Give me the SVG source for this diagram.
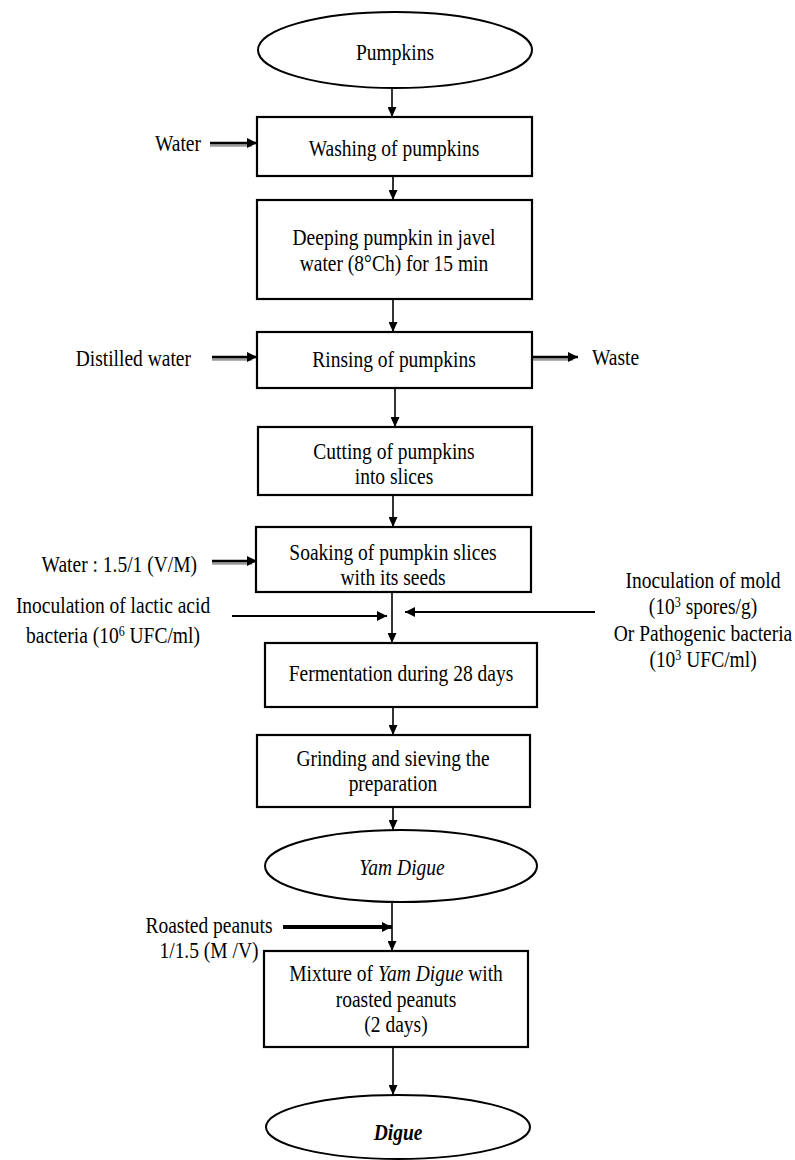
<svg xmlns="http://www.w3.org/2000/svg" width="795" height="1160" viewBox="0 0 795 1160">
<defs>
<style>
.t{font-family:"Liberation Serif","Times New Roman",serif;font-size:19.5px;fill:#000;text-anchor:middle}
.e{text-anchor:end}
.s{text-anchor:start}
.sup{font-size:12px}
.box{fill:#fff;stroke:#000;stroke-width:2.2}
.ov{fill:#fff;stroke:#000;stroke-width:2}
.main{stroke:#000;stroke-width:1.6;fill:none}
.side{stroke:#000;stroke-width:2.6;fill:none}
.shad{stroke:#9a9a9a;stroke-width:2.5;fill:none}
.ino{stroke:#000;stroke-width:2.2;fill:none}
.thick{stroke:#000;stroke-width:4;fill:none}
</style>
<marker id="ah" markerUnits="userSpaceOnUse" viewBox="0 0 10 9" refX="10" refY="4.5" markerWidth="10" markerHeight="9" orient="auto">
<path d="M0,0 L10,4.5 L0,9 z" fill="#000"/>
</marker>
<marker id="ahs" markerUnits="userSpaceOnUse" viewBox="0 0 10 10" refX="10" refY="5" markerWidth="10" markerHeight="10" orient="auto">
<path d="M0,0 L10,5 L0,10 z" fill="#000"/>
</marker>
</defs>
<rect width="795" height="1160" fill="#fff"/>

<g id="connectors">
<path class="main" d="M392 88 V117" marker-end="url(#ah)"/>
<path class="main" d="M393 176 V200" marker-end="url(#ah)"/>
<path class="main" d="M393 299 V332" marker-end="url(#ah)"/>
<path class="main" d="M395 388 V427" marker-end="url(#ah)"/>
<path class="main" d="M393 495 V527" marker-end="url(#ah)"/>
<path class="main" d="M392 592 V643" marker-end="url(#ah)"/>
<path class="main" d="M393 707 V735" marker-end="url(#ah)"/>
<path class="main" d="M393 807 V830" marker-end="url(#ah)"/>
<path class="main" d="M392 902 V951" marker-end="url(#ah)"/>
<path class="main" d="M393 1047 V1095" marker-end="url(#ah)"/>
<path class="shad" d="M210 145.5 H252"/>
<path class="side" d="M210 143 H257" marker-end="url(#ahs)"/>
<path class="shad" d="M212 359.5 H252"/>
<path class="side" d="M212 357 H257" marker-end="url(#ahs)"/>
<path class="shad" d="M532 359.5 H573"/>
<path class="side" d="M532 357 H578" marker-end="url(#ahs)"/>
<path class="shad" d="M212 563.5 H252"/>
<path class="side" d="M212 561 H257" marker-end="url(#ahs)"/>
<path class="ino" d="M232 616 H387" marker-end="url(#ahs)"/>
<path class="ino" d="M595 612 H405" marker-end="url(#ahs)"/>
<path class="thick" d="M283 927 H392" marker-end="url(#ahs)"/>
</g>

<g id="n-pumpkins">
<ellipse class="ov" cx="395" cy="50" rx="137" ry="38"/>
<text class="t" transform="translate(395 60) scale(1 1.23)">Pumpkins</text>
</g>
<g id="n-washing">
<rect class="box" x="257" y="117" width="275" height="59"/>
<text class="t" transform="translate(394 156) scale(1 1.23)">Washing of pumpkins</text>
</g>
<g id="in-water">
<text class="t e" transform="translate(201 151) scale(1 1.23)">Water</text>
</g>
<g id="n-deeping">
<rect class="box" x="257" y="200" width="275" height="99"/>
<text class="t" transform="translate(394 245) scale(1 1.23)"><tspan x="0" y="0">Deeping pumpkin in javel</tspan><tspan x="0" y="21.1">water (8°Ch) for 15 min</tspan></text>
</g>
<g id="n-rinsing">
<rect class="box" x="257" y="332" width="275" height="56"/>
<text class="t" transform="translate(394 367) scale(1 1.23)">Rinsing of pumpkins</text>
</g>
<g id="in-distilled">
<text class="t e" transform="translate(191 366) scale(1 1.23)">Distilled water</text>
</g>
<g id="out-waste">
<text class="t s" transform="translate(592 365) scale(1 1.23)">Waste</text>
</g>
<g id="n-cutting">
<rect class="box" x="258" y="427" width="274" height="68"/>
<text class="t" transform="translate(394 459) scale(1 1.23)"><tspan x="0" y="0">Cutting of pumpkins</tspan><tspan x="0" y="20.3">into slices</tspan></text>
</g>
<g id="n-soaking">
<rect class="box" x="256" y="527" width="275" height="65"/>
<text class="t" transform="translate(393 560) scale(1 1.23)"><tspan x="0" y="0">Soaking of pumpkin slices</tspan><tspan x="0" y="20.3">with its seeds</tspan></text>
</g>
<g id="in-water2">
<text class="t e" transform="translate(197 572) scale(1 1.23)">Water : 1.5/1 (V/M)</text>
</g>
<g id="in-lactic">
<text class="t" transform="translate(113 613) scale(1 1.23)"><tspan x="0" y="0">Inoculation of lactic acid</tspan><tspan x="0" y="24.4">bacteria (10<tspan class="sup" dy="-6">6</tspan><tspan dy="6"> UFC/ml)</tspan></tspan></text>
</g>
<g id="in-mold">
<text class="t" transform="translate(703 588) scale(1 1.23)"><tspan x="0" y="0">Inoculation of mold</tspan><tspan x="0" y="21.3">(10<tspan class="sup" dy="-6">3</tspan><tspan dy="6"> spores/g)</tspan></tspan><tspan x="0" y="43.1">Or Pathogenic bacteria</tspan><tspan x="0" y="64.6">(10<tspan class="sup" dy="-6">3</tspan><tspan dy="6"> UFC/ml)</tspan></tspan></text>
</g>
<g id="n-fermentation">
<rect class="box" x="265" y="643" width="272" height="64"/>
<text class="t" transform="translate(401 681) scale(1 1.23)">Fermentation during 28 days</text>
</g>
<g id="n-grinding">
<rect class="box" x="257" y="735" width="273" height="72"/>
<text class="t" transform="translate(393 766) scale(1 1.23)"><tspan x="0" y="0">Grinding and sieving the</tspan><tspan x="0" y="20.3">preparation</tspan></text>
</g>
<g id="n-yamdigue">
<ellipse class="ov" cx="401" cy="866" rx="136" ry="36"/>
<text class="t" font-style="italic" transform="translate(402 875) scale(1 1.23)">Yam Digue</text>
</g>
<g id="in-peanuts">
<text class="t" transform="translate(209 933) scale(1 1.23)"><tspan x="0" y="0">Roasted peanuts</tspan><tspan x="0" y="20.3">1/1.5 (M /V)</tspan></text>
</g>
<g id="n-mixture">
<rect class="box" x="264" y="951" width="264" height="96"/>
<text class="t" transform="translate(396 981) scale(1 1.23)"><tspan x="0" y="0">Mixture of <tspan font-style="italic">Yam Digue</tspan> with</tspan><tspan x="0" y="21.1">roasted peanuts</tspan><tspan x="0" y="41.5">(2 days)</tspan></text>
</g>
<g id="n-digue">
<ellipse class="ov" cx="398" cy="1127" rx="132" ry="32"/>
<text class="t" font-style="italic" font-weight="bold" transform="translate(398 1140) scale(1 1.23)">Digue</text>
</g>
</svg>
